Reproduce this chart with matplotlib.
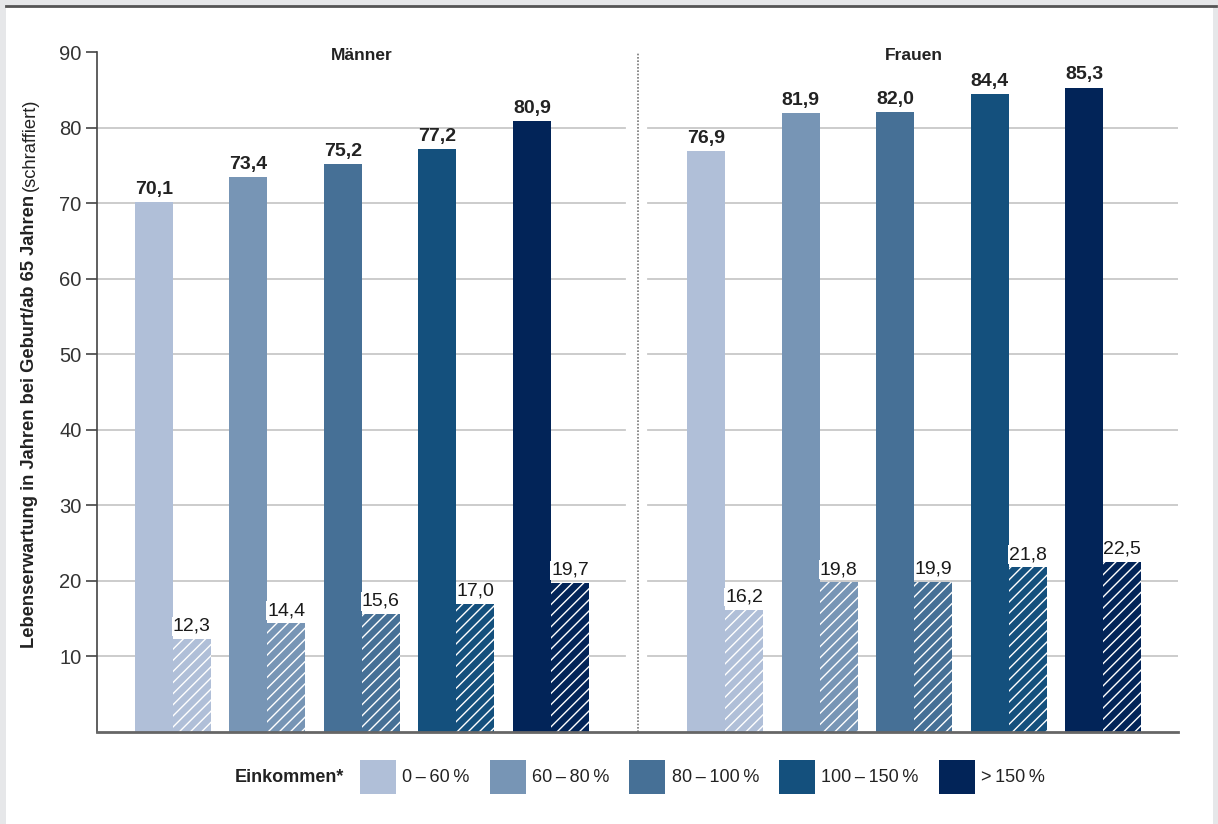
import matplotlib
matplotlib.use("Agg")
import matplotlib.pyplot as plt
from matplotlib.patches import Patch, Rectangle
import numpy as np

# income groups (share of median income)
einkommen = ["0\u2009–\u200960\u2009%", "60\u2009–\u200980\u2009%", "80\u2009–\u2009100\u2009%",
             "100\u2009–\u2009150\u2009%", ">\u2009150\u2009%"]
farben = ["#B0BFD8", "#7795B5", "#467096", "#14507D", "#022458"]

# life expectancy at birth / remaining at 65 (hatched)
maenner_geburt = [70.1, 73.4, 75.2, 77.2, 80.9]
maenner_65 = [12.3, 14.4, 15.6, 17.0, 19.7]
frauen_geburt = [76.9, 81.9, 82.0, 84.4, 85.3]
frauen_65 = [16.2, 19.8, 19.9, 21.8, 22.5]

gruppen = ["Männer", "Frauen"]
yticks = [10, 20, 30, 40, 50, 60, 70, 80, 90]

FONT = ["Liberation Sans", "DejaVu Sans"]
plt.rcParams["font.family"] = FONT
plt.rcParams["hatch.linewidth"] = 1.0

W, H = 1218, 824
fig = plt.figure(figsize=(W / 100, H / 100), dpi=100)
fig.patch.set_facecolor("#E6E7E9")
fig.patches.append(Rectangle((6 / W, 0), 1207 / W, 1 - 7 / H, transform=fig.transFigure,
                             facecolor="white", edgecolor="none", zorder=-5))
fig.add_artist(plt.Line2D([6 / W, 1216 / W], [1 - 5.5 / H, 1 - 5.5 / H], transform=fig.transFigure,
                          color="#555555", lw=2, zorder=-4))

ax = fig.add_axes([97 / W, 1 - 732 / H, (1178 - 97) / W, (732 - 52) / H])
ax.set_facecolor("none")
ax.set_zorder(1)

bw = 0.402
gap = 1.84
x_m = np.arange(5)
x_f = np.arange(5) + 4 + gap
divider = 4.92

ax.set_xlim(-0.80, 10.63)
ax.set_ylim(0, 90)

# gridlines, broken at the divider
for y in yticks[:-1]:
    ax.plot([-0.80, divider - 0.14], [y, y], color="#C8C8C8", lw=1.3, zorder=0)
    ax.plot([divider + 0.11, 10.63], [y, y], color="#C8C8C8", lw=1.3, zorder=0)
ax.plot([divider, divider], [0, 90], color="#777777", lw=1.2, ls=(0, (1, 1)), zorder=1)

for xs, geb, s65 in [(x_m, maenner_geburt, maenner_65), (x_f, frauen_geburt, frauen_65)]:
    for i in range(5):
        ax.bar(xs[i] - bw / 2, geb[i], width=bw, color=farben[i], edgecolor="none", zorder=2)
        ax.bar(xs[i] + bw / 2, s65[i], width=bw, color=farben[i], edgecolor="white",
               linewidth=0, hatch="///", zorder=2)
        ax.annotate(f"{geb[i]:.1f}".replace(".", ","), (xs[i] - bw / 2, geb[i]),
                    xytext=(0, 3), textcoords="offset points", ha="center", va="bottom",
                    fontsize=14, fontweight="bold", color="#222222")
        ax.annotate(f"{s65[i]:.1f}".replace(".", ","), (xs[i] + bw / 2, s65[i]),
                    xytext=(0, 3), textcoords="offset points", ha="center", va="bottom",
                    fontsize=14, color="#1a1a1a",
                    bbox=dict(facecolor="white", edgecolor="none", pad=0.5))

ax.text(np.mean(x_m), 89.5, gruppen[0], ha="center", va="center", fontsize=12.5,
        fontweight="bold", color="#222222")
ax.text(np.mean(x_f), 89.5, gruppen[1], ha="center", va="center", fontsize=12.5,
        fontweight="bold", color="#222222")

for s in ["top", "right"]:
    ax.spines[s].set_visible(False)
ax.spines["left"].set_color("#444444")
ax.spines["left"].set_linewidth(1.2)
ax.spines["bottom"].set_color("#666666")
ax.spines["bottom"].set_linewidth(2)
ax.set_xticks([])
ax.set_yticks(yticks)
ax.tick_params(axis="y", length=8, width=1.2, color="#444444", direction="out", pad=3,
               labelsize=14.5, labelcolor="#333333")

# y label: bold part + regular "(schraffiert)"
t1 = fig.text(30 / W, 1 - 648 / H, "Lebenserwartung in Jahren bei Geburt/ab 65 Jahren",
              rotation=90, ha="center", va="bottom", fontsize=13.2, fontweight="bold",
              color="#222222")
fig.texts.append(plt.Annotation("(schraffiert)", xy=(0.5, 1), xycoords=t1,
                                xytext=(0, 3), textcoords="offset points",
                                rotation=90, ha="center", va="bottom", fontsize=13.2,
                                color="#222222"))
fig.texts[-1].set_figure(fig)

# legend
fig.text(235 / W, 1 - 777 / H, "Einkommen*", ha="left", va="center", fontsize=13,
         fontweight="bold", color="#222222")
handles = [Patch(facecolor=c, edgecolor="none") for c in farben]
fig.legend(handles, einkommen, loc="center left", bbox_to_anchor=(360 / W, 1 - 777 / H),
           ncol=5, frameon=False, fontsize=13, handlelength=2.0, handleheight=2.55,
           handletextpad=0.35, columnspacing=1.1, borderpad=0, borderaxespad=0,
           labelcolor="#222222")

fig.savefig("out.png", dpi=100, facecolor=fig.get_facecolor())
